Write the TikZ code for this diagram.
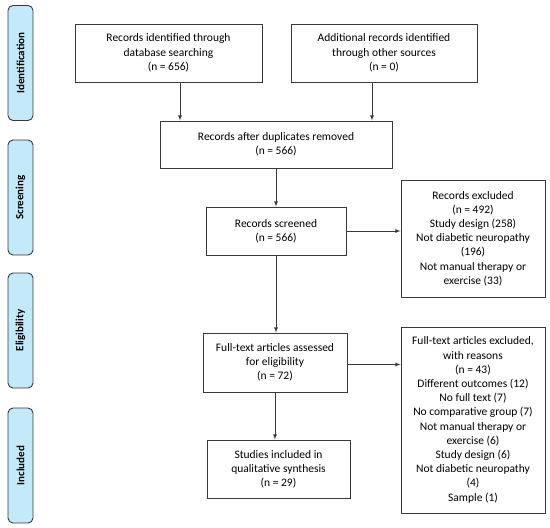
\documentclass[tikz,border=0pt]{standalone}
\usepackage{fontspec}
\setmainfont{Carlito}
\usepackage{tikz}

\definecolor{phase}{HTML}{C4E9FA}
\definecolor{edge}{HTML}{3A3A3A}

\tikzset{
  box/.style={draw=edge, line width=0.9pt, align=center, inner sep=2pt,
    font=\fontsize{11.5}{14.2}\selectfont},
  phasebox/.style={draw=edge, line width=0.9pt, fill=phase, rounded corners=5pt,
    rotate=90, minimum width=115pt, minimum height=25pt,
    font=\fontsize{11}{13}\selectfont\bfseries},
  flow/.style={draw=edge, line width=0.8pt, -latex}
}

\begin{document}
\begin{tikzpicture}[x=1pt,y=-1pt]
\useasboundingbox (0,0) rectangle (550,528);

% phases
\node[phasebox] (pid) at (20.5,63) {Identification};
\node[phasebox] (psc) at (20.5,197.5) {Screening};
\node[phasebox] (pel) at (20.5,330.5) {Eligibility};
\node[phasebox] (pin) at (20.5,465.5) {Included};

% boxes
\node[box, minimum width=187pt, minimum height=58pt] (ident) at (168.5,53)
  {Records identified through\\database searching\\(n = 656)};
\node[box, minimum width=186pt, minimum height=58pt] (other) at (384,53)
  {Additional records identified\\through other sources\\(n = 0)};
\node[box, minimum width=232pt, minimum height=47pt] (dup) at (276,144.5)
  {Records after duplicates removed\\(n = 566)};
\node[box, minimum width=140pt, minimum height=48pt] (screen) at (276,231)
  {Records screened\\(n = 566)};
\node[box, minimum width=144pt, minimum height=117pt] (excl) at (473,238.5)
  {Records excluded\\(n = 492)\\Study design (258)\\Not diabetic neuropathy\\(196)\\Not manual therapy or\\exercise (33)};
\node[box, minimum width=144pt, minimum height=59pt] (full) at (275,362.5)
  {Full-text articles assessed\\for eligibility\\(n = 72)};
\node[box, minimum width=144pt, minimum height=186pt] (fexcl) at (473,420)
  {Full-text articles excluded,\\with reasons\\(n = 43)\\Different outcomes (12)\\No full text (7)\\No comparative group (7)\\Not manual therapy or\\exercise (6)\\Study design (6)\\Not diabetic neuropathy\\(4)\\Sample (1)};
\node[box, minimum width=143pt, minimum height=58pt] (incl) at (278.5,469)
  {Studies included in\\qualitative synthesis\\(n = 29)};

% arrows
\draw[flow] ([xshift=11.5pt]ident.south) -- ([xshift=11.5pt]ident.south |- dup.north);
\draw[flow] ([xshift=-12pt]other.south) -- ([xshift=-12pt]other.south |- dup.north);
\draw[flow] (dup) -- (screen);
\draw[flow] (screen.south) -- (screen.south |- full.north);
\draw[flow] (full.south) -- (full.south |- incl.north);
\draw[flow] (screen.east) -- (screen.east -| excl.west);
\draw[flow] ([yshift=-2pt]full.east) -- ([yshift=-2pt]full.east -| fexcl.west);

\end{tikzpicture}
\end{document}
